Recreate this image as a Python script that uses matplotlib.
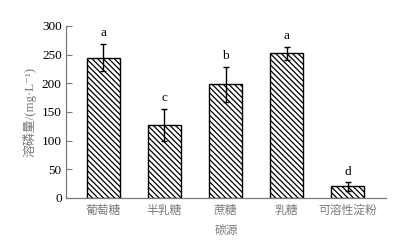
import matplotlib
matplotlib.use("Agg")
import matplotlib.pyplot as plt
import numpy as np

# carbon sources and measured values
categories = ["葡萄糖", "半乳糖", "蔗糖", "乳糖", "可溶性淀粉"]
values = [245, 127, 198, 252, 20]
errors = [23, 28, 31, 12, 7]
letters = ["a", "c", "b", "a", "d"]
yticks = [0, 50, 100, 150, 200, 250, 300]

cjk = ["Noto Sans CJK SC", "DejaVu Sans"]
serif = ["Liberation Serif", "DejaVu Serif"]
mixed = ["Liberation Serif", "Noto Sans CJK SC", "DejaVu Sans"]
grey = "#7a7a7a"

plt.rcParams["hatch.linewidth"] = 0.9
fig = plt.figure(figsize=(4.12, 2.45), dpi=100)
ax = fig.add_axes([0.160, 0.192, 0.777, 0.702])

x = np.arange(len(categories))
ax.bar(x, values, width=0.54, color="white", edgecolor="black",
       linewidth=1.0, hatch="\\" * 6, zorder=2)
ax.errorbar(x, values, yerr=errors, fmt="none", ecolor="black",
            elinewidth=1.0, capsize=2.5, capthick=1.0, zorder=3)
for xi, v, e, s in zip(x, values, errors, letters):
    ax.annotate(s, (xi, v + e), xytext=(0, 3.5), textcoords="offset points",
                ha="center", va="bottom", fontsize=9.5, family=serif)

ax.set_xlim(-0.615, 4.63)
ax.set_ylim(0, 300)
ax.set_yticks(yticks)
ax.set_yticklabels([str(t) for t in yticks], family=serif, fontsize=9.5)
ax.set_xticks(x)
ax.set_xticklabels(categories, family=cjk, fontsize=8.5, color=grey)
ax.tick_params(axis="x", length=0, pad=4)
ax.tick_params(axis="y", direction="in", length=4, width=0.8,
               color=grey, pad=3)

for side in ["top", "right"]:
    ax.spines[side].set_visible(False)
for side in ["left", "bottom"]:
    ax.spines[side].set_color(grey)
    ax.spines[side].set_linewidth(0.9)

ax.set_xlabel("碳源", family=cjk, fontsize=8.5, color=grey, labelpad=5)
ax.set_ylabel("溶磷量/(mg·L⁻¹)", family=mixed, fontsize=9.3,
              color=grey, labelpad=4)

fig.savefig("out.png", dpi=100)
